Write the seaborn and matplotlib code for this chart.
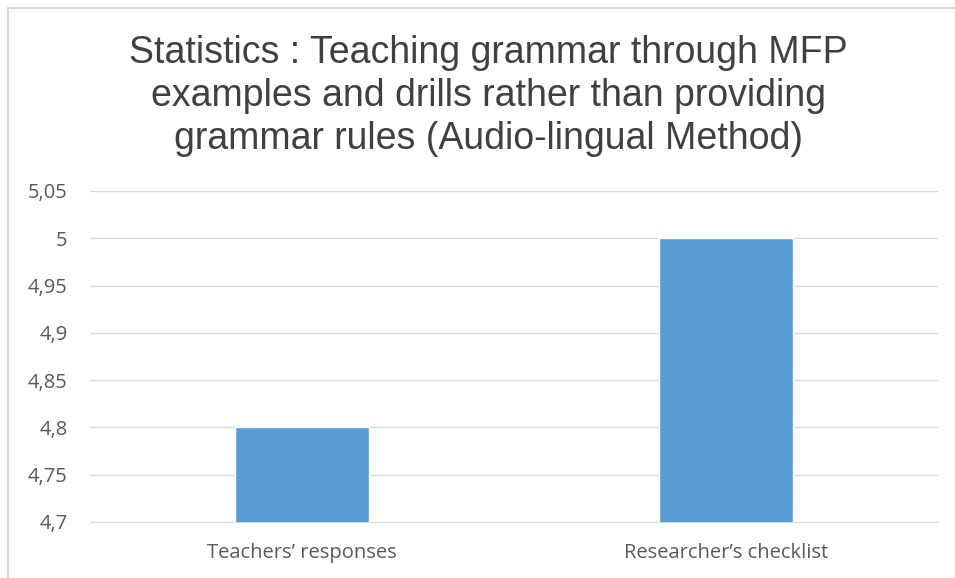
import matplotlib
matplotlib.use("Agg")
import matplotlib.pyplot as plt
import matplotlib.patches as mpatches
import pandas as pd
import seaborn as sns

categories = ["Teachers\u2019 responses", "Researcher\u2019s checklist"]
values = [4.8, 5.0]
yticks = [4.7, 4.75, 4.8, 4.85, 4.9, 4.95, 5.0, 5.05]
ytick_labels = ["4,7", "4,75", "4,8", "4,85", "4,9", "4,95", "5", "5,05"]
title = ("Statistics : Teaching grammar through MFP\n"
         "examples and drills rather than providing\n"
         "grammar rules (Audio-lingual Method)")

df = pd.DataFrame({"source": categories, "score": values})

sns.set_style("white")
fig = plt.figure(figsize=(9.55, 5.78), dpi=100)
ax = fig.add_axes([0.0942, 0.0969, 0.8878, 0.5727])

# outer chart border (light gray, runs off the right/bottom edge)
fig.patches.append(mpatches.Rectangle((7.5 / 955, -0.1), 1.2, 1 - 8.5 / 578 + 0.1,
                                      transform=fig.transFigure, fill=False,
                                      edgecolor="#d9d9d9", linewidth=1.5))

sns.barplot(data=df, x="source", y="score", color="#5b9bd5", saturation=1,
            width=0.316, ax=ax, zorder=3)

ax.set_ylim(4.7, 5.05)
ax.set_yticks(yticks)
ax.set_yticklabels(ytick_labels)
ax.grid(axis="y", color="#d9d9d9", linewidth=1)
ax.set_axisbelow(True)
for s in ["top", "right", "left"]:
    ax.spines[s].set_visible(False)
ax.spines["bottom"].set_color("#d9d9d9")
ax.tick_params(axis="both", length=0, labelsize=14.5, colors="#595959")
ax.tick_params(axis="x", pad=15)
ax.tick_params(axis="y", pad=16)
for lbl in ax.get_xticklabels() + ax.get_yticklabels():
    lbl.set_fontfamily("Open Sans")
ax.set_xlabel("")
ax.set_ylabel("")

fig.text(0.511, 0.834, title, ha="center", va="center", fontsize=27,
         color="#404040", family="Liberation Sans", linespacing=1.26)

fig.savefig("out.png", dpi=100)
